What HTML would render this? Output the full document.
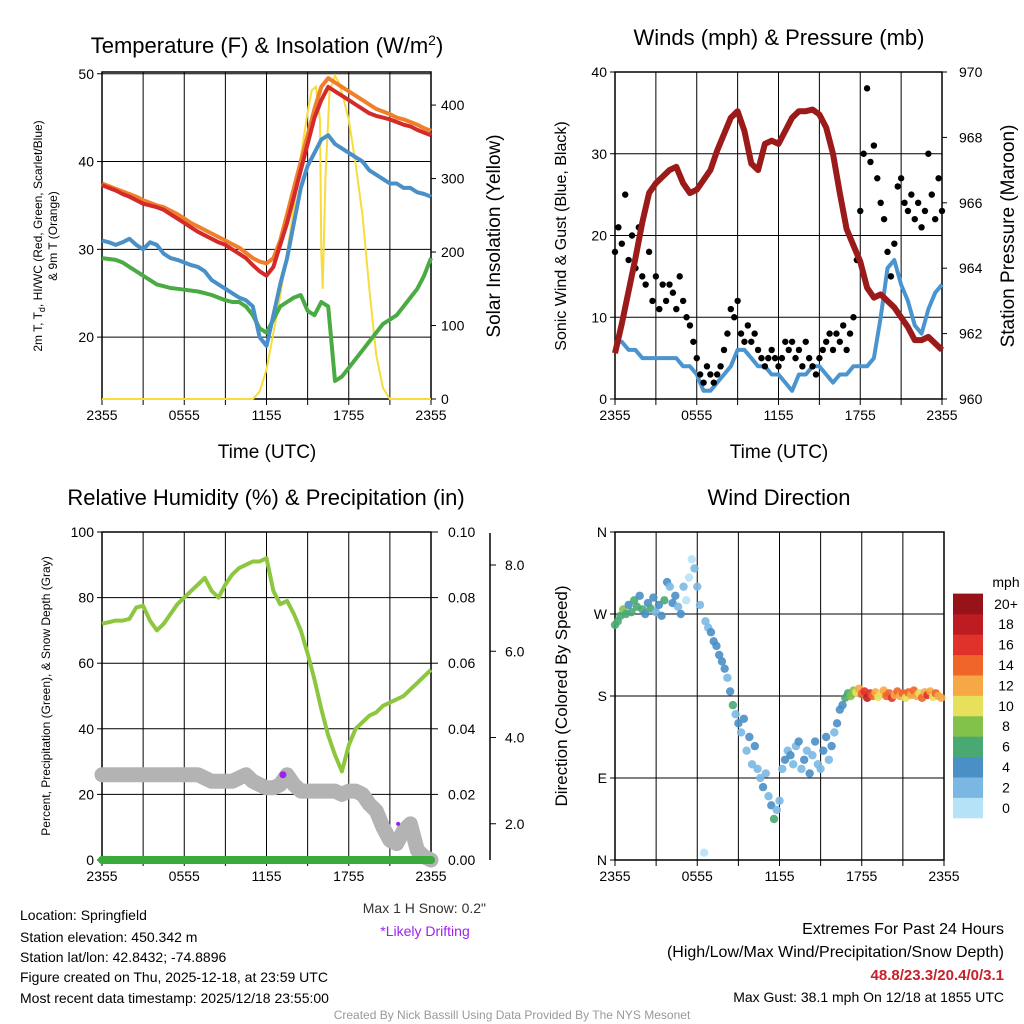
<!DOCTYPE html>
<html><head><meta charset="utf-8">
<style>
html,body{margin:0;padding:0;background:#fff;}
svg{display:block;font-family:"Liberation Sans",sans-serif;}
</style></head>
<body>
<svg id="root" width="1024" height="1024" viewBox="0 0 1024 1024" xmlns="http://www.w3.org/2000/svg">
<rect x="0" y="0" width="1024" height="1024" fill="#fff"/>
<g id="p1"></g>
<g id="p2"></g>
<g id="p3"></g>
<g id="p4"></g>
<g id="txt">
<text x="267" y="53" font-size="22" text-anchor="middle">Temperature (F) &amp; Insolation (W/m<tspan dy="-8" font-size="14">2</tspan><tspan dy="8">)</tspan></text>
<text x="779" y="45" font-size="22" text-anchor="middle">Winds (mph) &amp; Pressure (mb)</text>
<text x="266" y="505" font-size="22" text-anchor="middle">Relative Humidity (%) &amp; Precipitation (in)</text>
<text x="779" y="505" font-size="22" text-anchor="middle">Wind Direction</text>
<text x="267" y="458" font-size="19" text-anchor="middle">Time (UTC)</text>
<text x="779" y="458" font-size="19" text-anchor="middle">Time (UTC)</text>
<text transform="translate(42,236) rotate(-90)" font-size="12" text-anchor="middle">2m T, T<tspan dy="3" font-size="9">d</tspan><tspan dy="-3">, HI/WC (Red, Green, Scarlet/Blue)</tspan></text>
<text transform="translate(57,236) rotate(-90)" font-size="12" text-anchor="middle">&amp; 9m T (Orange)</text>
<text transform="translate(500,236) rotate(-90)" font-size="19" text-anchor="middle">Solar Insolation (Yellow)</text>
<text transform="translate(566,236) rotate(-90)" font-size="16" text-anchor="middle">Sonic Wind &amp; Gust (Blue, Black)</text>
<text transform="translate(1014,236) rotate(-90)" font-size="19" text-anchor="middle">Station Pressure (Maroon)</text>
<text transform="translate(50,696) rotate(-90)" font-size="12" text-anchor="middle">Percent, Precipitation (Green), &amp; Snow Depth (Gray)</text>
<text transform="translate(567,696) rotate(-90)" font-size="17" text-anchor="middle">Direction (Colored By Speed)</text>
<text x="486" y="913" font-size="14" text-anchor="end" fill="#333">Max 1 H Snow: 0.2"</text>
<text x="425" y="936" font-size="14" text-anchor="middle" fill="#a020f0">*Likely Drifting</text>
<text x="20" y="920" font-size="14">Location: Springfield</text>
<text x="20" y="942" font-size="14">Station elevation: 450.342 m</text>
<text x="20" y="962" font-size="14">Station lat/lon: 42.8432; -74.8896</text>
<text x="20" y="982" font-size="14">Figure created on Thu, 2025-12-18, at 23:59 UTC</text>
<text x="20" y="1003" font-size="14">Most recent data timestamp: 2025/12/18 23:55:00</text>
<text x="1004" y="934" font-size="16" text-anchor="end">Extremes For Past 24 Hours</text>
<text x="1004" y="957" font-size="16" text-anchor="end">(High/Low/Max Wind/Precipitation/Snow Depth)</text>
<text x="1004" y="980" font-size="15" font-weight="bold" text-anchor="end" fill="#c8202a">48.8/23.3/20.4/0/3.1</text>
<text x="1004" y="1002" font-size="14" text-anchor="end">Max Gust: 38.1 mph On 12/18 at 1855 UTC</text>
<text x="512" y="1019" font-size="12" text-anchor="middle" fill="#999">Created By Nick Bassill Using Data Provided By The NYS Mesonet</text>
</g>
</svg>
<script>
// ---------- data ----------
const timeLabels = ["2355","","0555","","1155","","1755","","2355"];
const tempRed = [37.3,37.0,36.7,36.3,36.0,35.6,35.2,35.0,34.8,34.5,34.0,33.5,33.0,32.5,32.0,31.6,31.2,30.8,30.5,30.0,29.5,29.0,28.2,27.5,27.0,28.0,30.5,33.0,36.0,39.0,42.0,45.0,47.0,48.5,48.0,47.5,47.0,46.5,46.0,45.5,45.2,45.0,44.8,44.5,44.2,44.0,43.6,43.3,43.0];
const tempOrange = [37.5,37.2,36.9,36.6,36.3,36.0,35.6,35.3,35.0,34.8,34.4,34.0,33.5,33.0,32.6,32.2,31.8,31.4,31.0,30.6,30.2,29.6,29.0,28.6,28.4,29.0,31.0,34.0,37.0,40.0,43.0,46.0,48.5,49.5,49.0,48.5,48.0,47.5,47.0,46.5,46.0,45.7,45.4,45.0,44.8,44.5,44.2,43.8,43.5];
const tempBlue = [31.0,30.8,30.5,30.8,31.2,30.5,30.0,30.8,30.5,29.5,29.0,28.8,28.5,28.2,28.0,27.5,26.5,26.0,25.5,25.0,24.5,24.2,23.5,20.0,19.0,22.5,26.0,29.0,33.0,37.0,39.5,41.0,42.5,43.0,42.0,41.5,41.0,40.5,40.0,39.0,38.5,38.0,37.5,37.5,37.0,37.0,36.5,36.3,36.0];
const dewGreen = [29.0,28.9,28.8,28.5,28.0,27.5,27.0,26.5,26.0,25.8,25.6,25.5,25.4,25.3,25.2,25.0,24.8,24.5,24.2,24.0,24.0,23.5,22.5,21.0,20.5,22.0,23.5,24.0,24.5,24.8,23.0,22.5,24.0,23.5,15.0,15.5,16.5,17.5,18.5,19.5,20.5,21.5,22.0,22.5,23.5,24.5,25.5,27.0,29.0];
const insolHours = [0,11,11.5,12,12.5,13,13.5,14,14.5,15,15.3,15.6,15.9,16.0,16.1,16.3,16.6,17.0,17.3,17.6,18,18.5,19,19.5,20,20.5,21,24];
const insolValues = [0,0,10,40,90,140,200,260,330,390,420,425,380,200,150,300,420,440,430,410,380,320,250,150,60,15,0,0];
const windSpeed = [7,7,6,6,5,5,5,5,5,5,4,4,3,1,1,2,3,4,6,6,5,4,4,3,3,2,1,3,3,4,4,3,2,3,3,4,4,4,5,10,16,17,14,12,9,8,11,13,14];
const windGust = [18,21,19,25,17,20,16,21,15, 14,18,12,15,11,14,12,14, 13,11,15,12,10,9,7,5, 3,2,4,3,2,3,4,6, 8,11,10,12,8,7,9,7, 8,6,5,4,5,6,5,4, 5,7,6,7,5,6,4,7, 5,4,3,5,6,7,8,6, 8,7,9,6,8,10,17,23, 30,38,29,31,27,24,22,18, 15,19,26,27,24,23,25,22, 24,21,23,30,25,22,27,23];
const pressure = [961.4,962.3,963.3,964.3,965.4,966.3,966.6,966.8,967.0,967.1,966.6,966.3,966.4,966.7,967.0,967.6,968.1,968.6,968.8,968.2,967.2,967.0,967.8,967.9,967.8,968.2,968.6,968.8,968.8,968.85,968.7,968.3,967.5,966.3,965.2,964.7,964.2,963.4,963.1,963.2,963.0,962.8,962.5,962.2,961.8,961.8,961.9,961.7,961.5];
const humidity = [72,72.5,73,73,73.5,77,77.5,73,70,72,75,78,80,82,84,86,82,80,84,87,89,90,91,91,92,82,78,79,75,70,63,55,46,38,32,27,35,40,42,44,45,47,48,49,50,52,54,56,58];
const snowDepth = [26,26,26,26,26,26,26,26,26,26,26,26,26,26,26,25,24,24,24,24,25,26,24,23,22,22,23,26,23,21,21,21,21,21,21,20,21,21,20,17,15,10,6,5,9,11,3,1,0];
const precip = [0,0,0,0,0,0,0,0,0,0,0,0,0,0,0,0,0,0,0,0,0,0,0,0,0];
const driftHours = [13.2,21.6];
const driftValues = [26,11];
const dirHours = [0.0,0.2,0.4,0.6,0.8,1.0,1.2,1.4,1.6,1.8,2.0,2.2,2.4,2.6,2.8,3.0,3.2,3.4,3.6,3.8,4.0,4.2,4.4,4.6,4.8,5.0,5.2,5.4,5.6,5.8,6.0,6.2,6.5,6.6,6.8,7.0,7.2,7.4,7.6,7.8,8.0,8.2,8.4,8.6,8.8,9.0,9.2,9.4,9.6,9.8,10.0,10.2,10.4,10.6,10.8,11.0,11.2,11.4,11.6,11.8,12.0,12.2,12.4,12.6,12.8,13.0,13.2,13.4,13.6,13.8,14.0,14.2,14.4,14.6,14.8,15.0,15.2,15.4,15.6,15.8,16.0,16.2,16.4,16.6,16.8,17.0,17.2,17.4,17.6,17.8,18.0,18.2,18.4,18.6,18.8,19.0,19.2,19.4,19.6,19.8,20.0,20.2,20.4,20.6,20.8,21.0,21.2,21.4,21.6,21.8,22.0,22.2,22.4,22.6,22.8,23.0,23.2,23.4,23.6,23.8,24.0];
const dirDegrees = [258,262,268,275,270,280,272,285,278,290,275,270,282,276,288,272,280,268,285,305,300,282,290,278,270,300,285,310,330,320,300,280,8,262,255,250,240,235,225,218,210,200,185,170,160,150,140,155,120,135,105,125,100,90,80,95,70,60,45,55,65,100,110,120,115,105,125,130,100,110,120,95,115,130,105,100,120,135,110,125,140,150,165,170,178,183,180,186,184,188,182,185,178,183,180,184,179,182,186,180,183,178,181,185,180,183,178,184,181,186,180,183,178,184,181,185,179,183,180,178];
const dirSpeeds = [7,6,7,8,6,5,7,6,7,5,6,5,4,6,5,3,5,4,7,4,3,4,4,2,4,2,1,1,1,2,3,2,1,3,2,4,5,5,4,4,4,3,4,6,3,4,2,4,3,4,3,4,2,3,4,2,3,4,6,3,2,3,4,3,4,3,2,4,3,4,2,4,3,4,2,3,4,4,3,4,3,4,4,5,6,6,8,9,10,12,15,17,18,16,14,12,10,11,13,15,14,16,12,14,13,15,11,14,12,15,13,10,14,12,16,13,11,14,12,13,12];
const speedColors = ["#b5e2f7","#7ab8e3","#4a8fc6","#4aa873","#82c24a","#e6e05a","#f6a846","#f0652a","#e0322a","#bc1c22","#961419"];
const speedLabels = ["0","2","4","6","8","10","12","14","16","18","20+"];

// ---------- helpers ----------
const NS="http://www.w3.org/2000/svg";
function mk(parent, tag, attrs, text){
  const e=document.createElementNS(NS,tag);
  for(const k in attrs) e.setAttribute(k,attrs[k]);
  if(text!==undefined) e.textContent=text;
  parent.appendChild(e);
  return e;
}
function lin(d0,d1,r0,r1){return v=>r0+(v-d0)/(d1-d0)*(r1-r0);}
function seriesPath(vals, xs, ys){
  const n=vals.length;
  let d="";
  for(let i=0;i<n;i++){const t=i*24/(n-1);d+=(i?"L":"M")+xs(t).toFixed(1)+","+ys(vals[i]).toFixed(1);}
  return d;
}
function pathXY(hours, vals, xs, ys){
  let d="";
  const n=Math.min(hours.length,vals.length);
  for(let i=0;i<n;i++){d+=(i?"L":"M")+xs(hours[i]).toFixed(1)+","+ys(vals[i]).toFixed(1);}
  return d;
}
function frame(g, L, T, R, B, xs){
  for(let k=0;k<=8;k++){
    const x=xs(k*3);
    const vl=mk(g,"line",{x1:x,y1:T,x2:x,y2:B,stroke:"#000","stroke-width":1});
    
    
    const tk=mk(g,"line",{x1:x,y1:B,x2:x,y2:B+6,stroke:"#000","stroke-width":1});
    
    
    if(timeLabels[k]){
      const tl=mk(g,"text",{x:x,y:B+21,"font-size":14,"text-anchor":"middle"},timeLabels[k]);
      
      
    }
  }
  const fr=mk(g,"rect",{x:L,y:T,width:R-L,height:B-T,fill:"none",stroke:"#000","stroke-width":1.5});
  
  
}
function hgrid(g,L,R,y,label,side,name){
  const l=mk(g,"line",{x1:L,y1:y,x2:R,y2:y,stroke:"#000","stroke-width":1});
  
  
  if(label!==null){
    const x = side==="left"? L-8 : R+8;
    const tk=mk(g,"line",{x1:side==="left"?L-5:R,y1:y,x2:side==="left"?L:R+5,y2:y,stroke:"#000"});
    
    
    const t=mk(g,"text",{x:x,y:y+5,"font-size":14,"text-anchor":side==="left"?"end":"start"},label);
    
    
  }
}

// ---------- panel 1 ----------
(function(){
  const g=document.getElementById("p1");
  const L=102,R=431,T=72,B=399;
  const xs=lin(0,24,L,R), ys=lin(12.95,50.2,B,T), ys2=lin(0,445,B,T);
  frame(g,L,T,R,B,xs);
  [20,30,40,50].forEach(v=>hgrid(g,L,R,ys(v),String(v),"left","temp-axis"));
  [0,100,200,300,400].forEach(v=>{
    const y=ys2(v);
    const tk=mk(g,"line",{x1:R,y1:y,x2:R+5,y2:y,stroke:"#000"});
    
    
    const t=mk(g,"text",{x:R+10,y:y+5,"font-size":14},String(v));
    
    
  });
  const ins=mk(g,"path",{d:pathXY(insolHours,insolValues,xs,ys2),fill:"none",stroke:"#f7dc3c","stroke-width":2});
  
  
  const gr=mk(g,"path",{d:seriesPath(dewGreen,xs,ys),fill:"none",stroke:"#4aaa44","stroke-width":4,"stroke-linejoin":"round"});
  
  
  const bl=mk(g,"path",{d:seriesPath(tempBlue,xs,ys),fill:"none",stroke:"#4a90c8","stroke-width":4,"stroke-linejoin":"round"});
  
  
  const or=mk(g,"path",{d:seriesPath(tempOrange,xs,ys),fill:"none",stroke:"#f07f2a","stroke-width":4,"stroke-linejoin":"round"});
  
  
  const rd=mk(g,"path",{d:seriesPath(tempRed,xs,ys),fill:"none",stroke:"#d42a2a","stroke-width":4,"stroke-linejoin":"round"});
  
  
})();

// ---------- panel 2 ----------
(function(){
  const g=document.getElementById("p2");
  const L=615,R=942,T=72,B=399;
  const xs=lin(0,24,L,R), ys=lin(0,40,B,T), ys2=lin(960,970,B,T);
  frame(g,L,T,R,B,xs);
  [0,10,20,30,40].forEach(v=>hgrid(g,L,R,ys(v),String(v),"left","wind-axis"));
  [960,962,964,966,968,970].forEach(v=>{
    const y=ys2(v);
    const tk=mk(g,"line",{x1:R,y1:y,x2:R+5,y2:y,stroke:"#000"});
    
    
    const t=mk(g,"text",{x:R+17,y:y+5,"font-size":14},String(v));
    
    
  });
  const ws=mk(g,"path",{d:seriesPath(windSpeed,xs,ys),fill:"none",stroke:"#4a95d0","stroke-width":4,"stroke-linejoin":"round"});
  
  
  const n=windGust.length;
  for(let i=0;i<n;i++){
    const c=mk(g,"circle",{cx:xs(i*24/(n-1)),cy:ys(windGust[i]),r:3.2,fill:"#000"});
    
    
  }
  const pr=mk(g,"path",{d:seriesPath(pressure,xs,ys2),fill:"none",stroke:"#9b1a1a","stroke-width":6,"stroke-linejoin":"round"});
  
  
})();

// ---------- panel 3 ----------
(function(){
  const g=document.getElementById("p3");
  const L=102,R=431,T=532,B=860;
  const xs=lin(0,24,L,R), ys=lin(0,100,B,T), ysP=lin(0,0.1,B,T), ysS=lin(0,8,910,565);
  frame(g,L,T,R,B,xs);
  [0,20,40,60,80,100].forEach(v=>hgrid(g,L,R,ys(v),String(v),"left","percent-axis"));
  [0,0.02,0.04,0.06,0.08,0.10].forEach(v=>{
    const y=ysP(v);
    const tk=mk(g,"line",{x1:R,y1:y,x2:R+7,y2:y,stroke:"#000"});
    
    
    const t=mk(g,"text",{x:R+17,y:y+5,"font-size":14},v.toFixed(2));
    
    
  });
  const sa=mk(g,"line",{x1:490,y1:533,x2:490,y2:860,stroke:"#000","stroke-width":1.5});
  
  
  [2,4,6,8].forEach(v=>{
    const y=ysS(v);
    const tk=mk(g,"line",{x1:490,y1:y,x2:496,y2:y,stroke:"#000"});
    
    
    const t=mk(g,"text",{x:505,y:y+5,"font-size":14},v.toFixed(1));
    
    
  });
  const rh=mk(g,"path",{d:seriesPath(humidity,xs,ys),fill:"none",stroke:"#8dc63f","stroke-width":4,"stroke-linejoin":"round"});
  
  
  const sd=mk(g,"path",{d:seriesPath(snowDepth,xs,ys),fill:"none",stroke:"#b3b3b3","stroke-width":15,"stroke-linejoin":"round","stroke-linecap":"round"});
  
  
  const pc=mk(g,"path",{d:seriesPath(precip,xs,ysP),fill:"none",stroke:"#3aaa3a","stroke-width":8,"stroke-linecap":"round"});
  
  
  for(let i=0;i<driftHours.length;i++){
    const c=mk(g,"circle",{cx:xs(driftHours[i]),cy:ys(driftValues[i]),r:i?2:3.5,fill:"#a020f0"});
    
    
  }
})();

// ---------- panel 4 ----------
(function(){
  const g=document.getElementById("p4");
  const L=615,R=944,T=532,B=860;
  const xs=lin(0,24,L,R), ys=lin(0,360,B,T);
  frame(g,L,T,R,B,xs);
  const dl=["N","E","S","W","N"];
  [0,90,180,270,360].forEach((v,i)=>hgrid(g,L,R,ys(v),dl[i],"left","direction-axis"));
  const n=Math.min(dirHours.length,dirDegrees.length,dirSpeeds.length);
  for(let i=0;i<n;i++){
    const idx=Math.min(10,Math.floor(dirSpeeds[i]/2));
    const c=mk(g,"circle",{cx:xs(dirHours[i]),cy:ys(dirDegrees[i]),r:4.2,fill:speedColors[idx],"fill-opacity":0.9});
    
    
  }
  const ut=mk(g,"text",{x:1006,y:587,"font-size":14,"text-anchor":"middle"},"mph");
  
  
  const h=20.4;
  for(let k=0;k<11;k++){
    const y=818-(k+1)*h;
    const r=mk(g,"rect",{x:953,y:y,width:30,height:h+0.3,fill:speedColors[k]});
    
    
    const t=mk(g,"text",{x:1006,y:y+h/2+5,"font-size":14,"text-anchor":"middle"},speedLabels[k]);
    
    
  }
})();
</script>
</body></html>
